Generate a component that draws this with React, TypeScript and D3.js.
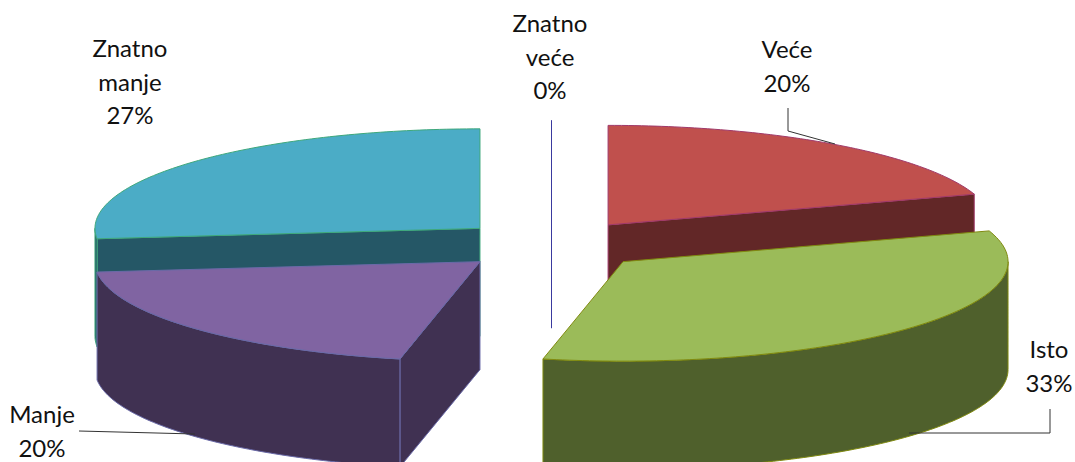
import React from 'react';
import * as d3 from 'd3';

const categories = ['Znatno veće', 'Veće', 'Isto', 'Manje', 'Znatno manje'];
const counts = [0, 3, 5, 3, 4];
const topColors = ['#3A3A9E', '#C0504D', '#9BBB59', '#8064A2', '#4BACC6'];
const wallColors = ['#3A3A9E', '#622727', '#4F602C', '#403152', '#255766'];
const edgeColors = ['#3A3A9E', '#A03A6A', '#808A10', '#6A6AA8', '#3FA87C'];
// back to front
const drawOrder = [0, 1, 4, 3, 2];

const labelLines = [['Znatno', 'veće'], ['Veće'], ['Isto'], ['Manje'], ['Znatno', 'manje']];
const labelAnchors = [
  { x: 550, y: 32 },
  { x: 787, y: 58 },
  { x: 1049, y: 358 },
  { x: 42, y: 423 },
  { x: 130, y: 57 },
];
const leaders: [number, number][][] = [
  [],
  [[788, 108], [788, 131], [835, 144]],
  [[1050, 409], [1050, 433], [909, 433]],
  [[79, 431], [195, 434]],
  [],
];

const width = 1075;
const height = 462;
const depth = 108;
const explode = 0.25;
const lineHeight = 33.5;

const x = d3.scaleLinear().domain([-1, 1]).range([551.5 - 385, 551.5 + 385]);
const y = d3.scaleLinear().domain([-1, 1]).range([245 + 99.5, 245 - 99.5]);
const pct = d3.format('.0%');
const total = d3.sum(counts);

const slices = d3.pie<number>().sort(null).startAngle(0).endAngle(2 * Math.PI)(counts);
const line = d3.line<[number, number]>().x((d) => d[0]).y((d) => d[1]);

function geometry(i: number) {
  const s = slices[i];
  const mid = (s.startAngle + s.endAngle) / 2;
  const ox = explode * Math.sin(mid);
  const oy = explode * Math.cos(mid);
  const apex: [number, number] = [x(ox), y(oy)];
  const rim = (a: number): [number, number] => [x(ox + Math.sin(a)), y(oy + Math.cos(a))];
  const arc = (a0: number, a1: number) => {
    const n = Math.max(1, Math.ceil(((a1 - a0) * 180) / Math.PI));
    return d3.range(n + 1).map((k) => rim(a0 + ((a1 - a0) * k) / n));
  };
  const drop = (p: [number, number]): [number, number] => [p[0], p[1] + depth];
  const top = line([apex, ...arc(s.startAngle, s.endAngle)]) + 'Z';

  const walls: string[] = [];
  const cut = (a: number) => {
    const p = rim(a);
    walls.push(line([apex, p, drop(p), drop(apex)]) + 'Z');
  };
  // a cut face is only drawn when it turns towards the viewer
  if (Math.sin(s.startAngle) < -1e-6) cut(s.startAngle);
  if (Math.sin(s.endAngle) > 1e-6) cut(s.endAngle);
  if (s.startAngle === s.endAngle) cut(s.startAngle);
  // outer wall only shows on the front half
  const a0 = Math.max(s.startAngle, Math.PI / 2);
  const a1 = Math.min(s.endAngle, (3 * Math.PI) / 2);
  if (a1 > a0) {
    const pts = arc(a0, a1);
    walls.push(line([...pts, ...pts.slice().reverse().map(drop)]) + 'Z');
  }
  return { top, walls };
}

export default function App() {
  return (
    <svg
      width={width}
      height={height}
      style={{ position: 'absolute', left: 0, top: 0, display: 'block', background: '#fff' }}
    >
      {drawOrder.map((i) => {
        const g = geometry(i);
        return (
          <g key={categories[i]} strokeLinejoin="round">
            {g.walls.map((d, k) => (
              <path key={k} d={d} fill={wallColors[i]} stroke={edgeColors[i]} strokeWidth={1} />
            ))}
            <path d={g.top} fill={topColors[i]} stroke={edgeColors[i]} strokeWidth={1} />
          </g>
        );
      })}
      {leaders.map((pts, i) =>
        pts.length ? <path key={i} d={line(pts) ?? ''} fill="none" stroke="#333" strokeWidth={1} /> : null
      )}
      {categories.map((c, i) => {
        const rows = [...labelLines[i], pct(counts[i] / total)];
        return (
          <text
            key={c}
            textAnchor="middle"
            fontFamily="Lato, 'Open Sans', sans-serif"
            fontSize={24}
            fill="#111"
          >
            {rows.map((r, k) => (
              <tspan key={k} x={labelAnchors[i].x} y={labelAnchors[i].y + k * lineHeight}>
                {r}
              </tspan>
            ))}
          </text>
        );
      })}
    </svg>
  );
}
